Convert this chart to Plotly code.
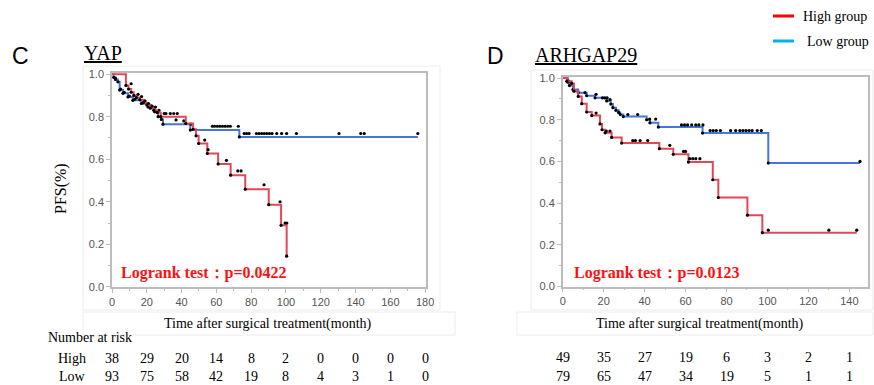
import plotly.graph_objects as go

W, H = 874, 385

# ---------------- data ----------------
# Panel C (YAP)
c_high_t = [0, 8, 9.5, 11, 12.5, 14, 16, 18, 20, 22, 24, 26, 28, 42.4, 46.6, 48.3, 49.8, 54.8, 61, 68.2, 76.6, 90.1, 97.2, 100.4]
c_high_s = [1.0, 0.947, 0.93, 0.915, 0.90, 0.89, 0.88, 0.865, 0.855, 0.84, 0.83, 0.82, 0.80, 0.768, 0.741, 0.71, 0.674, 0.627, 0.578, 0.525, 0.459, 0.386, 0.289, 0.144]
c_high_end = 100.4
c_high_cens_t = [11, 15, 17, 19, 21, 23, 25, 31, 33.5, 35.5, 37.5, 36.8, 53.3, 55.2, 65.8, 72.3, 74.2, 87.4, 96.6, 99.5, 100.5]
c_high_cens_s = [0.955, 0.905, 0.895, 0.875, 0.862, 0.85, 0.845, 0.815, 0.815, 0.815, 0.815, 0.785, 0.69, 0.645, 0.595, 0.545, 0.545, 0.48, 0.40, 0.30, 0.30]

c_low_t = [0, 1, 2, 3.4, 4.4, 6.3, 9.2, 12, 16.9, 20.7, 24.5, 26.5, 28.4, 29.3, 45, 73.2]
c_low_s = [1.0, 0.985, 0.975, 0.964, 0.925, 0.91, 0.893, 0.877, 0.862, 0.846, 0.823, 0.80, 0.787, 0.765, 0.737, 0.705]
c_low_end = 175.8
c_low_cens_t = [2, 5, 7, 10, 13, 18, 22, 27, 30, 41.3, 45.3, 57.7, 59, 60.5, 62, 63.5, 65, 66.5, 68, 72.6,
                76, 77.4, 78.8, 83, 84.5, 86, 87.5, 89, 90.5, 92, 94.7, 97.5, 100.4, 106, 130.5, 143, 145, 175.8]
c_low_cens_s = [0.98, 0.93, 0.915, 0.897, 0.882, 0.868, 0.853, 0.83, 0.815, 0.78, 0.765, 0.755, 0.755, 0.755, 0.755, 0.755, 0.755, 0.755, 0.755, 0.755,
                0.721, 0.721, 0.721, 0.721, 0.721, 0.721, 0.721, 0.721, 0.721, 0.721, 0.721, 0.721, 0.721, 0.721, 0.721, 0.721, 0.721, 0.721]

# Panel D (ARHGAP29)
d_high_t = [0, 2, 4.4, 5.5, 7.6, 9.3, 11.7, 14.2, 18.2, 19.2, 20.7, 23.9, 28.8, 47.2, 54, 61.4, 73.3, 76, 90.2, 97.5]
d_high_s = [1.0, 0.985, 0.974, 0.937, 0.912, 0.877, 0.837, 0.82, 0.78, 0.752, 0.737, 0.715, 0.688, 0.661, 0.634, 0.597, 0.512, 0.427, 0.342, 0.258]
d_high_end = 143.6
d_high_cens_t = [16.3, 21.3, 23.1, 34.2, 35.5, 37.8, 41.5, 52.3, 59, 60, 62, 63.5, 65, 67, 100.4, 130, 143.6]
d_high_cens_s = [0.832, 0.746, 0.746, 0.70, 0.70, 0.70, 0.70, 0.677, 0.648, 0.648, 0.613, 0.613, 0.613, 0.613, 0.27, 0.27, 0.27]

d_low_t = [0, 2.5, 3.3, 5, 7.6, 11.7, 15.8, 21.5, 23.5, 24.5, 26, 27.3, 28.1, 29.6, 41, 42.6, 46.7, 68.3, 100.4]
d_low_s = [1.0, 0.98, 0.964, 0.945, 0.93, 0.915, 0.905, 0.89, 0.875, 0.858, 0.845, 0.835, 0.825, 0.815, 0.80, 0.785, 0.765, 0.736, 0.592]
d_low_end = 145.2
d_low_cens_t = [3, 10.9, 16.3, 19.4, 20.5, 21.7, 23.1, 31.8, 36.6, 42.5, 45.4, 58, 59.5, 61, 63, 65, 66.5, 68.5,
                72, 73.5, 75, 77, 82, 84.5, 86.5, 88, 89.5, 91, 92.5, 95, 97, 145.2]
d_low_cens_s = [0.985, 0.93, 0.922, 0.905, 0.905, 0.905, 0.897, 0.825, 0.825, 0.803, 0.803, 0.775, 0.775, 0.775, 0.775, 0.775, 0.775, 0.775,
                0.748, 0.748, 0.748, 0.748, 0.748, 0.748, 0.748, 0.748, 0.748, 0.748, 0.748, 0.748, 0.748, 0.60]

# Number at risk
c_risk_times = [0, 20, 40, 60, 80, 100, 120, 140, 160, 180]
c_risk_high = [38, 29, 20, 14, 8, 2, 0, 0, 0, 0]
c_risk_low = [93, 75, 58, 42, 19, 8, 4, 3, 1, 0]
d_risk_times = [0, 20, 40, 60, 80, 100, 120, 140]
d_risk_high = [49, 35, 27, 19, 6, 3, 2, 1]
d_risk_low = [79, 65, 47, 34, 19, 5, 1, 1]

x_ticks_c = [0, 20, 40, 60, 80, 100, 120, 140, 160, 180]
x_ticks_d = [0, 20, 40, 60, 80, 100, 120, 140]
y_ticks = [0.0, 0.2, 0.4, 0.6, 0.8, 1.0]

# ---------------- styling ----------------
RED = "#E04858"
BLUE = "#4576DA"
SERIF = "Liberation Serif"
SANS = "Liberation Sans"


def pxx(x):
    return x / W


def pyy(y):
    return 1 - y / H


fig = go.Figure()


def add_curve(t, s, end, ct, cs, color, xa, ya):
    fig.add_trace(go.Scatter(x=t + [end], y=s + [s[-1]], mode="lines", line=dict(color=color, width=2, shape="hv"),
                             xaxis=xa, yaxis=ya, showlegend=False, hoverinfo="skip"))
    fig.add_trace(go.Scatter(x=t[1:], y=s[1:], mode="markers", marker=dict(color="black", size=3.2, symbol="circle"),
                             xaxis=xa, yaxis=ya, showlegend=False, hoverinfo="skip"))
    fig.add_trace(go.Scatter(x=ct, y=cs, mode="markers", marker=dict(color="black", size=3.2, symbol="circle"),
                             xaxis=xa, yaxis=ya, showlegend=False, hoverinfo="skip"))


add_curve(c_low_t, c_low_s, c_low_end, c_low_cens_t, c_low_cens_s, BLUE, "x", "y")
add_curve(c_high_t, c_high_s, c_high_end, c_high_cens_t, c_high_cens_s, RED, "x", "y")
add_curve(d_low_t, d_low_s, d_low_end, d_low_cens_t, d_low_cens_s, BLUE, "x2", "y2")
add_curve(d_high_t, d_high_s, d_high_end, d_high_cens_t, d_high_cens_s, RED, "x2", "y2")

axcol = "#bcbcbc"
tickfont = dict(family=SANS, size=11, color="#555555")
common_x = dict(showline=True, mirror=True, linecolor=axcol, linewidth=1.5, ticks="outside", ticklen=4,
                tickcolor=axcol, tickfont=tickfont, showgrid=False, zeroline=False,
                minor=dict(dtick=10, tick0=0, ticks="outside", ticklen=2, tickcolor=axcol))
common_y = dict(showline=True, mirror=True, linecolor=axcol, linewidth=1.5, ticks="outside", ticklen=4,
                tickcolor=axcol, tickfont=tickfont, showgrid=False, zeroline=False,
                tickvals=y_ticks, tickformat=".1f", range=[0, 1.005],
                minor=dict(dtick=0.1, tick0=0, ticks="outside", ticklen=2, tickcolor=axcol))

fig.update_layout(
    width=W, height=H, margin=dict(l=0, r=0, t=0, b=0, autoexpand=False),
    paper_bgcolor="white", plot_bgcolor="white", showlegend=False,
    xaxis=dict(domain=[pxx(112), pxx(426)], range=[0, 180.5], tickvals=x_ticks_c, anchor="y", **common_x),
    yaxis=dict(domain=[pyy(286.8), pyy(73.1)], anchor="x", **common_y),
    xaxis2=dict(domain=[pxx(562.7), pxx(868)], range=[0, 149.1], tickvals=x_ticks_d, anchor="y2", **common_x),
    yaxis2=dict(domain=[pyy(286.5), pyy(77)], anchor="x2", **common_y),
)

shapes = []
# faint panel frames
for x0, y0, x1, y1 in [(83, 66, 440, 310), (83, 312, 455, 335), (531, 70, 873, 310), (517, 312, 873, 335)]:
    shapes.append(dict(type="rect", xref="paper", yref="paper", x0=pxx(x0), x1=pxx(x1), y0=pyy(y1), y1=pyy(y0),
                       line=dict(color="#ececec", width=1), layer="below"))
# legend lines
shapes.append(dict(type="line", xref="paper", yref="paper", x0=pxx(773), x1=pxx(794), y0=pyy(16), y1=pyy(16),
                   line=dict(color="#FF0000", width=3)))
shapes.append(dict(type="line", xref="paper", yref="paper", x0=pxx(773), x1=pxx(794), y0=pyy(41), y1=pyy(41),
                   line=dict(color="#00B0F0", width=3)))
fig.update_layout(shapes=shapes)

ann = []


def text(x, y, s, size, family=SERIF, color="black", xanchor="left", **kw):
    ann.append(dict(x=pxx(x), y=pyy(y), xref="paper", yref="paper", text=s, showarrow=False,
                    font=dict(family=family, size=size, color=color), xanchor=xanchor, yanchor="middle", **kw))


LOW_ROW_Y = 376

text(801, 16, "High group", 14)
text(805, 41, "Low group", 14)
text(10, 56, "C", 23, family=SANS)
text(485, 56, "D", 23, family=SANS)
text(82, 53, "<u>YAP</u>", 20)
text(533, 55, "<u>ARHGAP29</u>", 20)
text(119, 273, "<b>Logrank test：p=0.0422</b>", 16, color="#FF1010")
text(572, 273, "<b>Logrank test：p=0.0123</b>", 16, color="#FF1010")
text(268, 324, "Time after surgical treatment(month)", 14, xanchor="center")
text(700, 324, "Time after surgical treatment(month)", 14, xanchor="center")
text(61, 189, "PFS(%)", 16, xanchor="center", textangle=-90)
text(46, 337, "Number at risk", 14)
text(72, 358, "High", 14, xanchor="center")
text(72, LOW_ROW_Y, "Low", 14, xanchor="center")

for tt, h, l in zip(c_risk_times, c_risk_high, c_risk_low):
    ann.append(dict(x=tt, y=pyy(358), xref="x", yref="paper", text=str(h), showarrow=False,
                    font=dict(family=SERIF, size=14, color="black"), xanchor="center", yanchor="middle"))
    ann.append(dict(x=tt, y=pyy(LOW_ROW_Y), xref="x", yref="paper", text=str(l), showarrow=False,
                    font=dict(family=SERIF, size=14, color="black"), xanchor="center", yanchor="middle"))
for tt, h, l in zip(d_risk_times, d_risk_high, d_risk_low):
    ann.append(dict(x=tt, y=pyy(357), xref="x2", yref="paper", text=str(h), showarrow=False,
                    font=dict(family=SERIF, size=14, color="black"), xanchor="center", yanchor="middle"))
    ann.append(dict(x=tt, y=pyy(LOW_ROW_Y), xref="x2", yref="paper", text=str(l), showarrow=False,
                    font=dict(family=SERIF, size=14, color="black"), xanchor="center", yanchor="middle"))

fig.update_layout(annotations=ann)
# remove the browser's default body margin so the 874x385 figure fills the window exactly
fig.write_html("out.html", config={"displayModeBar": False},
               post_script="document.body.style.margin='0px';document.body.style.overflow='hidden';")
